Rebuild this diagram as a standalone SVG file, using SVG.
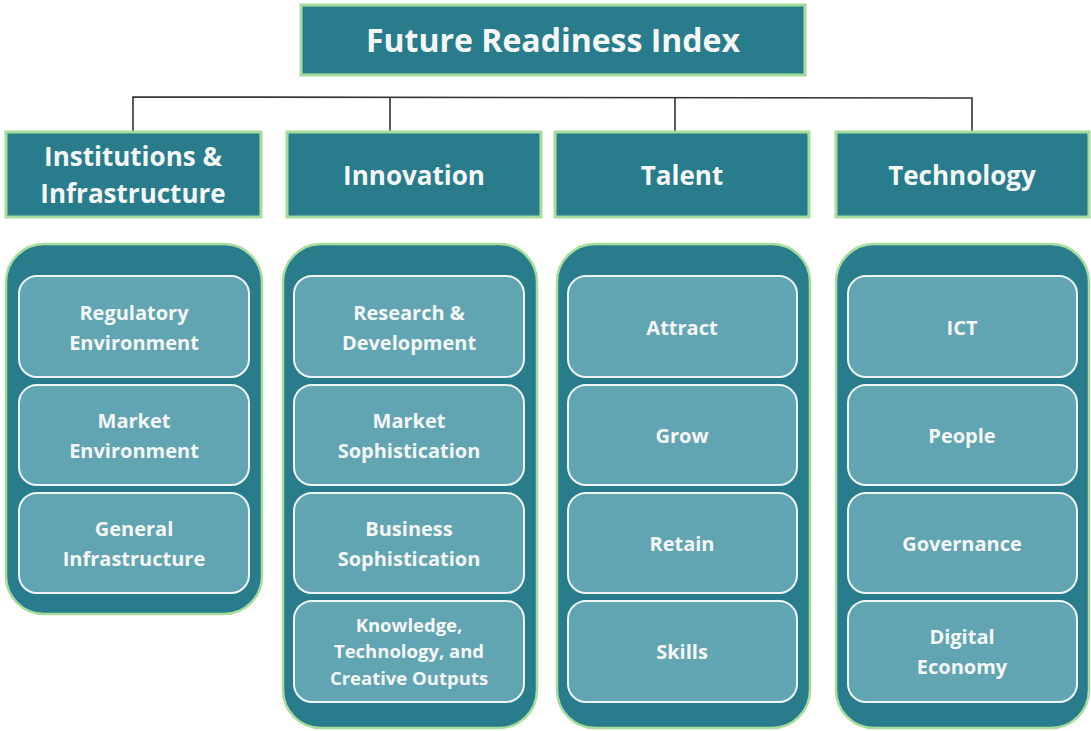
<svg xmlns="http://www.w3.org/2000/svg" width="1091" height="731" viewBox="0 0 1091 731">
<style>
.hdr{fill:#287c8c;stroke:#a6dc9c;stroke-width:3}
.panel{fill:#287c8c;stroke:#a6dc9c;stroke-width:2.5}
.item{fill:#62a5b2;stroke:#eef5f4;stroke-width:2}
.t{font-family:"Open Sans",Lato,sans-serif;font-weight:700;fill:#f5f7f7;text-anchor:middle}
.t1{font-size:32px}
.t2{font-size:26px}
.t3{font-size:20px}
.t4{font-size:18.5px}
.conn{fill:none;stroke:#333;stroke-width:1.6}
</style>
<rect width="1091" height="731" fill="#fff"/>
<g id="connectors">
<polyline class="conn" points="133,131 133,97 972,98 972,131"/>
<line class="conn" x1="390" y1="97" x2="390" y2="131"/>
<line class="conn" x1="675" y1="98" x2="675" y2="131"/>
</g>
<g id="title">
<rect class="hdr" x="301" y="5" width="504" height="70"/>
<text class="t t1" x="553" y="52">Future Readiness Index</text>
</g>
<g id="cat-institutions">
<rect class="hdr" x="6" y="132" width="255" height="85"/>
<text class="t t2" x="133" y="166">Institutions &amp;</text>
<text class="t t2" x="133" y="203">Infrastructure</text>
</g>
<g id="cat-innovation">
<rect class="hdr" x="287" y="132" width="254" height="85"/>
<text class="t t2" x="414" y="185">Innovation</text>
</g>
<g id="cat-talent">
<rect class="hdr" x="555" y="132" width="254" height="85"/>
<text class="t t2" x="682" y="185">Talent</text>
</g>
<g id="cat-technology">
<rect class="hdr" x="836" y="132" width="253" height="85"/>
<text class="t t2" x="962" y="185">Technology</text>
</g>
<g id="panel-institutions">
<rect class="panel" x="6" y="244" width="256" height="370" rx="38"/>
<g id="regulatory-environment"><rect class="item" x="19" y="276" width="230" height="101" rx="18"/>
<text class="t t3" x="134" y="320">Regulatory</text><text class="t t3" x="134" y="350">Environment</text></g>
<g id="market-environment"><rect class="item" x="19" y="385" width="230" height="100" rx="18"/>
<text class="t t3" x="134" y="428">Market</text><text class="t t3" x="134" y="458">Environment</text></g>
<g id="general-infrastructure"><rect class="item" x="19" y="493" width="230" height="100" rx="18"/>
<text class="t t3" x="134" y="536">General</text><text class="t t3" x="134" y="566">Infrastructure</text></g>
</g>
<g id="panel-innovation">
<rect class="panel" x="283" y="244" width="254" height="484" rx="38"/>
<g id="research-development"><rect class="item" x="294" y="276" width="230" height="101" rx="18"/>
<text class="t t3" x="409" y="320">Research &amp;</text><text class="t t3" x="409" y="350">Development</text></g>
<g id="market-sophistication"><rect class="item" x="294" y="385" width="230" height="100" rx="18"/>
<text class="t t3" x="409" y="428">Market</text><text class="t t3" x="409" y="458">Sophistication</text></g>
<g id="business-sophistication"><rect class="item" x="294" y="493" width="230" height="100" rx="18"/>
<text class="t t3" x="409" y="536">Business</text><text class="t t3" x="409" y="566">Sophistication</text></g>
<g id="knowledge-outputs"><rect class="item" x="294" y="601" width="230" height="101" rx="18"/>
<text class="t t4" x="409" y="632">Knowledge,</text><text class="t t4" x="409" y="658">Technology, and</text><text class="t t4" x="409" y="685">Creative Outputs</text></g>
</g>
<g id="panel-talent">
<rect class="panel" x="557" y="244" width="253" height="484" rx="38"/>
<g id="attract"><rect class="item" x="568" y="276" width="229" height="101" rx="18"/>
<text class="t t3" x="682" y="335">Attract</text></g>
<g id="grow"><rect class="item" x="568" y="385" width="229" height="100" rx="18"/>
<text class="t t3" x="682" y="443">Grow</text></g>
<g id="retain"><rect class="item" x="568" y="493" width="229" height="100" rx="18"/>
<text class="t t3" x="682" y="551">Retain</text></g>
<g id="skills"><rect class="item" x="568" y="601" width="229" height="101" rx="18"/>
<text class="t t3" x="682" y="659">Skills</text></g>
</g>
<g id="panel-technology">
<rect class="panel" x="836" y="244" width="253" height="484" rx="38"/>
<g id="ict"><rect class="item" x="848" y="276" width="229" height="101" rx="18"/>
<text class="t t3" x="962" y="335">ICT</text></g>
<g id="people"><rect class="item" x="848" y="385" width="229" height="100" rx="18"/>
<text class="t t3" x="962" y="443">People</text></g>
<g id="governance"><rect class="item" x="848" y="493" width="229" height="100" rx="18"/>
<text class="t t3" x="962" y="551">Governance</text></g>
<g id="digital-economy"><rect class="item" x="848" y="601" width="229" height="101" rx="18"/>
<text class="t t3" x="962" y="644">Digital</text><text class="t t3" x="962" y="674">Economy</text></g>
</g>
</svg>
